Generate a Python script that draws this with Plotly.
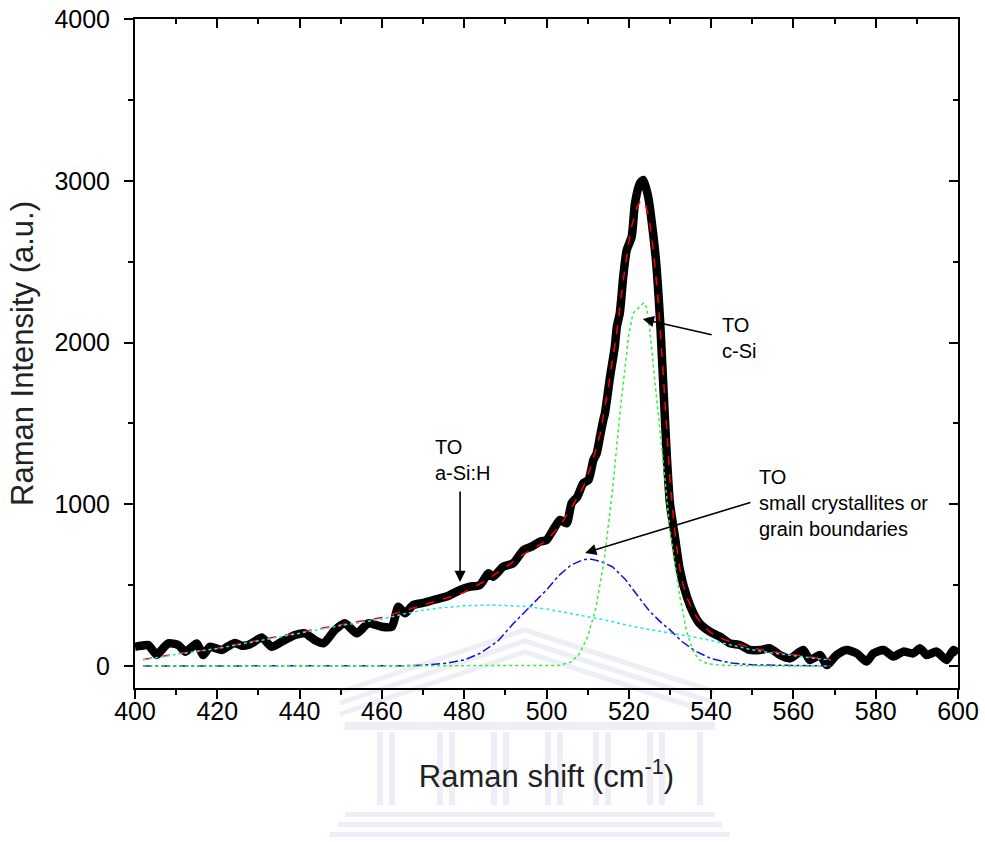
import plotly.graph_objects as go

# ---------------- data ----------------
meas_x = [400.0, 401.5, 403.2, 405.3, 406.5, 408.1, 410.5, 412.2, 413.5, 415.0, 416.6, 418.2,
          421.1, 422.5, 424.3, 426.0, 427.5, 429.0, 430.8, 433.2, 435.6, 438.9, 441.3, 443.7,
          445.8, 448.6, 451.0, 453.9, 456.7, 459.9, 462.4, 464.0, 465.6, 467.6, 470.0, 472.5,
          475.7, 479.0, 481.4, 483.8, 485.9, 487.0, 489.5, 491.9, 494.4, 496.4, 498.4, 500.0,
          501.6, 503.3, 504.9, 506.1, 507.5, 508.9, 510.2, 511.4, 512.2, 513.0, 513.8, 514.2,
          515.4, 516.6, 517.1, 517.8, 518.7, 519.5, 520.7, 521.5, 522.7, 523.5, 524.7, 526.0,
          526.8, 527.6, 528.4, 529.2, 530.0, 531.2, 532.4, 534.1, 535.7, 537.3, 539.7, 542.2,
          544.6, 547.0, 549.4, 551.9, 554.3, 556.7, 559.2, 562.4, 564.0, 566.5, 568.1, 570.5,
          572.9, 575.4, 577.8, 579.4, 581.9, 584.3, 586.7, 589.1, 590.8, 592.4, 594.8, 597.2,
          598.9, 600.0]
meas_y = [119, 125, 130, 68, 100, 140, 130, 88, 110, 140, 68, 119,
          99, 120, 142, 125, 130, 150, 177, 119, 150, 192, 202, 160,
          140, 223, 264, 202, 264, 243, 243, 367, 326, 377, 390, 408,
          429, 470, 490, 500, 573, 552, 614, 635, 717, 738, 769, 779,
          841, 903, 882, 1006, 1047, 1129, 1150, 1274, 1315, 1418, 1521, 1562,
          1780, 1974, 2098, 2180, 2420, 2572, 2654, 2861, 2984, 3005, 2902, 2654,
          2448, 2139, 1727, 1315, 1006, 800, 594, 429, 326, 260, 212, 181,
          140, 130, 99, 99, 109, 68, 47, 99, 37, 68, 6, 68,
          99, 78, 27, 78, 99, 58, 89, 78, 109, 68, 89, 37,
          99, 78]

fit_x = [402, 406, 410, 415, 420, 425, 430, 435, 440, 445, 450, 455, 460, 465, 470, 475,
         480, 485, 490, 495, 500, 503, 506, 509, 511, 513, 515, 517, 519, 520.5, 522, 523,
         524, 525, 526, 527, 528, 529, 530, 531, 532, 533, 534, 536, 538, 540, 543, 546,
         550, 555, 560, 565, 569]
fit_y = [40, 58, 75, 92, 110, 135, 160, 185, 210, 232, 255, 278, 300, 338, 375, 415,
         455, 525, 610, 700, 775, 860, 975, 1110, 1250, 1430, 1720, 2050, 2450, 2700, 2840, 2880,
         2860, 2760, 2560, 2300, 1950, 1550, 1150, 870, 660, 520, 430, 320, 250, 205, 165, 140,
         110, 88, 68, 52, 40]

asi_x = [402, 410, 420, 430, 440, 450, 455, 460, 465, 470, 475, 480, 487, 495, 500, 505,
         510, 515, 520, 525, 530, 535, 540, 545, 550, 555, 560, 565, 569]
asi_y = [38, 72, 108, 155, 205, 250, 270, 290, 320, 345, 362, 372, 377, 368, 352, 330,
         305, 280, 250, 225, 205, 183, 158, 130, 100, 80, 62, 48, 37]

gb_x = [402, 450, 465, 470, 475, 480, 484, 488, 492, 496, 500, 503, 506, 509, 511, 513,
        516, 519, 522, 525, 528, 530, 533, 536, 540, 545, 550, 560, 569]
gb_y = [0, 0, 2, 5, 15, 37, 80, 150, 264, 367, 470, 560, 625, 658, 660, 648,
        614, 540, 440, 340, 265, 223, 150, 95, 45, 18, 7, 2, 0]

csi_x = [402, 500, 503, 506, 508, 510, 512, 514, 516, 518, 520, 521, 522, 523, 523.6, 524.3,
         525.1, 526.3, 527.6, 528.8, 530, 531.2, 532.4, 534, 535.5, 537, 539, 542, 550, 569]
csi_y = [0, 0, 3, 25, 75, 180, 360, 650, 1080, 1600, 2050, 2180, 2205, 2230, 2245, 2220,
         2080, 1770, 1460, 1150, 840, 630, 430, 220, 100, 40, 15, 5, 1, 0]

x_range = [400, 600]
y_range = [-136, 4000]
x_ticks = [400, 420, 440, 460, 480, 500, 520, 540, 560, 580, 600]
y_ticks = [0, 1000, 2000, 3000, 4000]

FONT = "Liberation Sans, Arial, Helvetica, sans-serif"

fig = go.Figure()
fig.add_trace(go.Scatter(x=meas_x, y=meas_y, mode="lines",
                         line=dict(color="black", width=8.5, shape="spline", smoothing=0.6),
                         showlegend=False))
fig.add_trace(go.Scatter(x=fit_x, y=fit_y, mode="lines",
                         line=dict(color="red", width=1.5, dash="dash"), showlegend=False))
fig.add_trace(go.Scatter(x=asi_x, y=asi_y, mode="lines",
                         line=dict(color="#22e6e6", width=1.5, dash="dot"), showlegend=False))
fig.add_trace(go.Scatter(x=gb_x, y=gb_y, mode="lines",
                         line=dict(color="#1010e0", width=1.5, dash="dashdot"), showlegend=False))
fig.add_trace(go.Scatter(x=csi_x, y=csi_y, mode="lines",
                         line=dict(color="#33ee33", width=1.5, dash="dot"), showlegend=False))
# dummy traces to anchor the extra tick axes
fig.add_trace(go.Scatter(x=[None], y=[None], xaxis="x2", yaxis="y2", showlegend=False,
                         hoverinfo="skip"))
fig.add_trace(go.Scatter(x=[None], y=[None], xaxis="x3", yaxis="y", showlegend=False,
                         hoverinfo="skip"))

# ---------------- faint watermark (paper coords from pixel helper) ----------------
L, R, T, B = 135, 958, 19, 688
def px(xp):
    return (xp - L) / (R - L)
def py(yp):
    return (B - yp) / (B - T)

wm = "rgba(205,205,228,0.35)"
shapes = []
for k in range(3):
    off = k * 11
    shapes.append(dict(type="path", xref="paper", yref="paper", layer="below",
                       path=f"M {px(340)},{py(692 + off)} L {px(525)},{py(630 + off)} L {px(715)},{py(692 + off)}",
                       line=dict(color=wm, width=5)))
shapes.append(dict(type="rect", xref="paper", yref="paper", layer="below",
                   x0=px(345), x1=px(715), y0=py(730), y1=py(722), fillcolor=wm, line=dict(width=0)))
for cx in [380, 392, 440, 452, 494, 506, 548, 560, 596, 608, 650, 662, 700]:
    shapes.append(dict(type="rect", xref="paper", yref="paper", layer="below",
                       x0=px(cx - 3), x1=px(cx + 3), y0=py(805), y1=py(732), fillcolor=wm,
                       line=dict(width=0)))
for k, (a, b) in enumerate([(345, 715), (338, 722), (330, 730)]):
    yy = 812 + k * 10
    shapes.append(dict(type="rect", xref="paper", yref="paper", layer="below",
                       x0=px(a), x1=px(b), y0=py(yy + 5), y1=py(yy), fillcolor=wm,
                       line=dict(width=0)))

annotations = []
txt_font = dict(family=FONT, size=20, color="black")
annotations.append(dict(x=472.4, y=1274, xref="x", yref="y", text="TO<br>a-Si:H",
                        showarrow=False, xanchor="left", yanchor="middle", align="left",
                        font=txt_font))
annotations.append(dict(x=542.2, y=2028, xref="x", yref="y", text="TO<br>c-Si",
                        showarrow=False, xanchor="left", yanchor="middle", align="left",
                        font=txt_font))
annotations.append(dict(x=551.2, y=1008, xref="x", yref="y",
                        text="TO<br>small crystallites or<br>grain boundaries",
                        showarrow=False, xanchor="left", yanchor="middle", align="left",
                        font=txt_font))
arrow_style = dict(showarrow=True, arrowhead=2, arrowsize=1.4, arrowwidth=1.6,
                   arrowcolor="black", text="", xref="x", yref="y", axref="x", ayref="y")
annotations.append(dict(x=479.0, y=519, ax=479.0, ay=1088, **arrow_style))
annotations.append(dict(x=523.4, y=2145, ax=540.5, ay=2046, **arrow_style))
annotations.append(dict(x=509.4, y=699, ax=549.9, ay=1014, **arrow_style))

axis_common = dict(showgrid=False, zeroline=False, showline=True, linecolor="black",
                   linewidth=2)

fig.update_layout(
    width=985, height=842,
    margin=dict(l=L, r=985 - R, t=T, b=842 - B, autoexpand=False),
    paper_bgcolor="white", plot_bgcolor="white",
    font=dict(family=FONT, color="black"),
    shapes=shapes, annotations=annotations,
    # main x axis: labels + title (ticks drawn by xaxis3 so labels sit close to the line)
    xaxis=dict(range=x_range, tickvals=x_ticks, ticks="",
               tickfont=dict(size=25, family=FONT, color="black"),
               title=dict(text="Raman shift (cm<sup>-1</sup>)",
                          font=dict(size=31, family=FONT, color="#222"), standoff=41),
               automargin=False, **axis_common),
    xaxis3=dict(range=x_range, overlaying="x", side="bottom", anchor="y",
                tickvals=x_ticks, ticks="outside", ticklen=9, tickwidth=2, tickcolor="black",
                showticklabels=False,
                minor=dict(dtick=10, ticks="outside", ticklen=5, tickwidth=2, tickcolor="black"),
                **axis_common),
    yaxis=dict(range=y_range, tickvals=y_ticks, ticks="outside", ticklen=9, tickwidth=2,
               tickcolor="black", tickfont=dict(size=25, family=FONT, color="black"),
               ticklabelstandoff=9,
               minor=dict(dtick=500, tick0=0, ticks="outside", ticklen=5, tickwidth=2,
                          tickcolor="black"),
               title=dict(text="Raman Intensity (a.u.)",
                          font=dict(size=31, family=FONT, color="#222"), standoff=12),
               automargin=False, **axis_common),
    xaxis2=dict(range=x_range, overlaying="x", side="top", anchor="y2",
                tickvals=x_ticks, ticks="inside", ticklen=9, tickwidth=2, tickcolor="black",
                showticklabels=False,
                minor=dict(dtick=10, ticks="inside", ticklen=5, tickwidth=2, tickcolor="black"),
                **axis_common),
    yaxis2=dict(range=y_range, overlaying="y", side="right", anchor="x2",
                tickvals=y_ticks, ticks="inside", ticklen=9, tickwidth=2, tickcolor="black",
                showticklabels=False,
                minor=dict(dtick=500, tick0=0, ticks="inside", ticklen=5, tickwidth=2,
                           tickcolor="black"),
                **axis_common),
)

fig.write_html("out.html")
